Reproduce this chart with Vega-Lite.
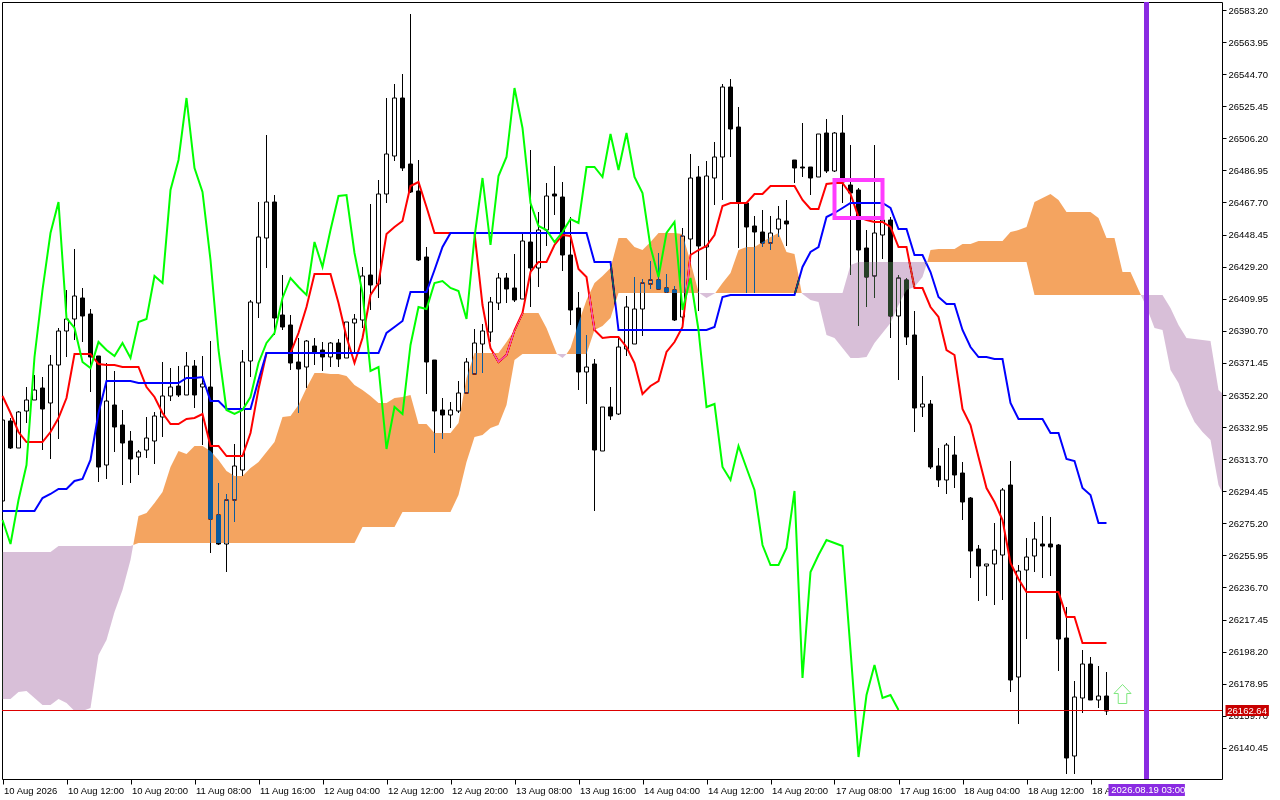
{
  "$schema": "https://vega.github.io/schema/vega-lite/v6.json",
  "width": 1220,
  "height": 777,
  "autosize": {"type": "none"},
  "padding": {"left": 2, "top": 2, "right": 58, "bottom": 21},
  "background": "#ffffff",
  "config": {
    "view": {"stroke": "#000000", "strokeWidth": 1, "fill": "#ffffff"},
    "axis": {"labelFont": "Liberation Sans", "labelFontSize": 9.5, "labelColor": "#000000", "tickColor": "#000000", "grid": false, "domain": false, "title": null, "labelOverlap": false, "labelBound": false, "labelFlush": false},
    "text": {"font": "Liberation Sans", "fontSize": 9.5}
  },
  "datasets": {
    "candles": [
      {"bar":0,"high":26340.2,"top":26337.2,"bottom":26288.6,"low":26286.2,"dir":"up"},
      {"bar":1,"high":26338.4,"top":26336.6,"bottom":26320.4,"low":26319.8,"dir":"down"},
      {"bar":2,"high":26342.6,"top":26342.0,"bottom":26320.4,"low":26320.4,"dir":"up"},
      {"bar":3,"high":26357.0,"top":26349.2,"bottom":26342.6,"low":26335.4,"dir":"up"},
      {"bar":4,"high":26364.2,"top":26355.2,"bottom":26349.2,"low":26349.2,"dir":"up"},
      {"bar":5,"high":26363.0,"top":26356.4,"bottom":26343.8,"low":26319.2,"dir":"down"},
      {"bar":6,"high":26376.2,"top":26370.2,"bottom":26347.4,"low":26313.8,"dir":"up"},
      {"bar":7,"high":26392.4,"top":26390.6,"bottom":26370.2,"low":26325.8,"dir":"up"},
      {"bar":8,"high":26415.2,"top":26397.8,"bottom":26390.6,"low":26375.0,"dir":"up"},
      {"bar":9,"high":26439.8,"top":26411.6,"bottom":26397.8,"low":26385.2,"dir":"up"},
      {"bar":10,"high":26416.4,"top":26410.4,"bottom":26399.6,"low":26384.0,"dir":"down"},
      {"bar":11,"high":26403.8,"top":26400.8,"bottom":26375.0,"low":26354.0,"dir":"down"},
      {"bar":12,"high":26375.6,"top":26375.6,"bottom":26309.0,"low":26300.0,"dir":"down"},
      {"bar":13,"high":26371.4,"top":26348.6,"bottom":26310.2,"low":26301.8,"dir":"up"},
      {"bar":14,"high":26366.6,"top":26346.2,"bottom":26333.0,"low":26318.0,"dir":"down"},
      {"bar":15,"high":26343.2,"top":26334.2,"bottom":26323.4,"low":26298.2,"dir":"down"},
      {"bar":16,"high":26330.6,"top":26324.6,"bottom":26313.8,"low":26299.4,"dir":"down"},
      {"bar":17,"high":26319.2,"top":26318.0,"bottom":26315.0,"low":26304.2,"dir":"up"},
      {"bar":18,"high":26339.0,"top":26326.4,"bottom":26319.2,"low":26314.4,"dir":"up"},
      {"bar":19,"high":26342.0,"top":26339.6,"bottom":26324.6,"low":26310.8,"dir":"up"},
      {"bar":20,"high":26372.0,"top":26351.6,"bottom":26339.0,"low":26327.0,"dir":"up"},
      {"bar":21,"high":26368.4,"top":26357.0,"bottom":26351.6,"low":26348.6,"dir":"up"},
      {"bar":22,"high":26369.6,"top":26357.6,"bottom":26352.2,"low":26351.0,"dir":"down"},
      {"bar":23,"high":26378.0,"top":26369.6,"bottom":26352.2,"low":26352.2,"dir":"up"},
      {"bar":24,"high":26373.2,"top":26369.6,"bottom":26352.2,"low":26344.4,"dir":"down"},
      {"bar":25,"high":26375.6,"top":26358.8,"bottom":26357.0,"low":26322.2,"dir":"up"},
      {"bar":26,"high":26384.6,"top":26357.0,"bottom":26277.8,"low":26257.4,"dir":"down"},
      {"bar":27,"high":26299.4,"top":26280.2,"bottom":26262.8,"low":26262.2,"dir":"down"},
      {"bar":28,"high":26292.8,"top":26289.2,"bottom":26262.8,"low":26246.0,"dir":"up"},
      {"bar":29,"high":26322.8,"top":26309.6,"bottom":26289.2,"low":26276.0,"dir":"up"},
      {"bar":30,"high":26379.2,"top":26372.0,"bottom":26307.2,"low":26303.6,"dir":"up"},
      {"bar":31,"high":26409.2,"top":26408.0,"bottom":26372.6,"low":26363.0,"dir":"up"},
      {"bar":32,"high":26468.0,"top":26447.0,"bottom":26407.4,"low":26398.4,"dir":"up"},
      {"bar":33,"high":26508.2,"top":26468.0,"bottom":26446.4,"low":26428.4,"dir":"up"},
      {"bar":34,"high":26472.2,"top":26468.0,"bottom":26398.4,"low":26388.2,"dir":"down"},
      {"bar":35,"high":26424.2,"top":26400.2,"bottom":26393.0,"low":26391.2,"dir":"down"},
      {"bar":36,"high":26400.2,"top":26394.2,"bottom":26371.4,"low":26367.2,"dir":"down"},
      {"bar":37,"high":26386.4,"top":26372.0,"bottom":26367.8,"low":26341.4,"dir":"down"},
      {"bar":38,"high":26385.2,"top":26384.6,"bottom":26369.0,"low":26356.4,"dir":"up"},
      {"bar":39,"high":26386.4,"top":26381.6,"bottom":26377.4,"low":26370.2,"dir":"down"},
      {"bar":40,"high":26384.0,"top":26379.2,"bottom":26375.0,"low":26366.6,"dir":"down"},
      {"bar":41,"high":26384.0,"top":26383.4,"bottom":26375.0,"low":26369.0,"dir":"up"},
      {"bar":42,"high":26385.8,"top":26383.4,"bottom":26373.8,"low":26369.0,"dir":"down"},
      {"bar":43,"high":26396.0,"top":26396.0,"bottom":26374.4,"low":26374.4,"dir":"up"},
      {"bar":44,"high":26400.8,"top":26397.8,"bottom":26395.4,"low":26378.0,"dir":"up"},
      {"bar":45,"high":26429.0,"top":26423.6,"bottom":26397.2,"low":26392.4,"dir":"up"},
      {"bar":46,"high":26466.8,"top":26424.2,"bottom":26418.2,"low":26403.2,"dir":"down"},
      {"bar":47,"high":26481.2,"top":26472.8,"bottom":26418.8,"low":26410.4,"dir":"up"},
      {"bar":48,"high":26530.4,"top":26496.8,"bottom":26472.8,"low":26467.4,"dir":"up"},
      {"bar":49,"high":26538.8,"top":26530.4,"bottom":26495.6,"low":26492.6,"dir":"up"},
      {"bar":50,"high":26544.8,"top":26530.4,"bottom":26488.4,"low":26486.6,"dir":"down"},
      {"bar":51,"high":26580.8,"top":26490.8,"bottom":26474.0,"low":26473.4,"dir":"down"},
      {"bar":52,"high":26493.2,"top":26474.6,"bottom":26433.2,"low":26432.6,"dir":"down"},
      {"bar":53,"high":26441.0,"top":26435.0,"bottom":26372.0,"low":26352.8,"dir":"down"},
      {"bar":54,"high":26373.2,"top":26373.2,"bottom":26342.6,"low":26317.4,"dir":"down"},
      {"bar":55,"high":26350.4,"top":26343.2,"bottom":26340.2,"low":26325.8,"dir":"down"},
      {"bar":56,"high":26348.0,"top":26343.2,"bottom":26340.2,"low":26332.4,"dir":"up"},
      {"bar":57,"high":26360.6,"top":26353.4,"bottom":26342.6,"low":26341.4,"dir":"up"},
      {"bar":58,"high":26374.4,"top":26372.0,"bottom":26353.4,"low":26353.4,"dir":"up"},
      {"bar":59,"high":26391.8,"top":26383.4,"bottom":26364.8,"low":26364.8,"dir":"up"},
      {"bar":60,"high":26394.8,"top":26390.6,"bottom":26382.8,"low":26365.4,"dir":"up"},
      {"bar":61,"high":26411.0,"top":26408.0,"bottom":26390.0,"low":26384.0,"dir":"up"},
      {"bar":62,"high":26425.4,"top":26422.4,"bottom":26407.4,"low":26403.2,"dir":"up"},
      {"bar":63,"high":26425.4,"top":26422.4,"bottom":26415.8,"low":26407.4,"dir":"down"},
      {"bar":64,"high":26436.8,"top":26416.4,"bottom":26409.2,"low":26408.0,"dir":"down"},
      {"bar":65,"high":26449.4,"top":26444.6,"bottom":26409.8,"low":26409.8,"dir":"up"},
      {"bar":66,"high":26499.2,"top":26444.0,"bottom":26428.4,"low":26405.0,"dir":"down"},
      {"bar":67,"high":26462.0,"top":26451.2,"bottom":26428.4,"low":26417.0,"dir":"up"},
      {"bar":68,"high":26479.4,"top":26471.6,"bottom":26451.2,"low":26441.6,"dir":"up"},
      {"bar":69,"high":26489.6,"top":26472.8,"bottom":26471.6,"low":26460.2,"dir":"down"},
      {"bar":70,"high":26480.0,"top":26471.0,"bottom":26436.2,"low":26426.6,"dir":"down"},
      {"bar":71,"high":26459.0,"top":26436.2,"bottom":26403.2,"low":26394.2,"dir":"down"},
      {"bar":72,"high":26414.0,"top":26404.4,"bottom":26366.0,"low":26355.2,"dir":"down"},
      {"bar":73,"high":26388.2,"top":26369.0,"bottom":26366.0,"low":26346.8,"dir":"up"},
      {"bar":74,"high":26373.8,"top":26370.8,"bottom":26319.2,"low":26282.6,"dir":"down"},
      {"bar":75,"high":26345.0,"top":26345.0,"bottom":26318.6,"low":26318.6,"dir":"up"},
      {"bar":76,"high":26357.0,"top":26345.0,"bottom":26339.6,"low":26337.2,"dir":"down"},
      {"bar":77,"high":26387.0,"top":26381.0,"bottom":26340.8,"low":26340.2,"dir":"up"},
      {"bar":78,"high":26411.6,"top":26405.0,"bottom":26379.8,"low":26375.6,"dir":"up"},
      {"bar":79,"high":26423.0,"top":26403.8,"bottom":26382.8,"low":26382.8,"dir":"up"},
      {"bar":80,"high":26421.8,"top":26419.4,"bottom":26403.8,"low":26387.6,"dir":"up"},
      {"bar":81,"high":26432.6,"top":26421.2,"bottom":26418.8,"low":26415.8,"dir":"up"},
      {"bar":82,"high":26437.4,"top":26421.2,"bottom":26415.8,"low":26415.8,"dir":"down"},
      {"bar":83,"high":26424.8,"top":26416.4,"bottom":26414.0,"low":26413.4,"dir":"down"},
      {"bar":84,"high":26417.6,"top":26415.2,"bottom":26397.2,"low":26396.6,"dir":"down"},
      {"bar":85,"high":26452.4,"top":26447.6,"bottom":26399.0,"low":26393.0,"dir":"up"},
      {"bar":86,"high":26496.8,"top":26482.4,"bottom":26445.8,"low":26432.0,"dir":"up"},
      {"bar":87,"high":26489.6,"top":26483.0,"bottom":26441.6,"low":26402.6,"dir":"down"},
      {"bar":88,"high":26492.6,"top":26483.6,"bottom":26441.0,"low":26421.2,"dir":"up"},
      {"bar":89,"high":26504.0,"top":26495.0,"bottom":26482.4,"low":26466.2,"dir":"up"},
      {"bar":90,"high":26538.8,"top":26537.0,"bottom":26495.0,"low":26469.2,"dir":"up"},
      {"bar":91,"high":26541.8,"top":26537.0,"bottom":26511.8,"low":26495.0,"dir":"down"},
      {"bar":92,"high":26525.0,"top":26513.0,"bottom":26468.0,"low":26440.4,"dir":"down"},
      {"bar":93,"high":26467.4,"top":26467.4,"bottom":26453.0,"low":26413.4,"dir":"down"},
      {"bar":94,"high":26459.6,"top":26453.6,"bottom":26450.0,"low":26413.4,"dir":"down"},
      {"bar":95,"high":26463.2,"top":26450.0,"bottom":26443.4,"low":26441.0,"dir":"down"},
      {"bar":96,"high":26459.6,"top":26449.4,"bottom":26443.4,"low":26439.2,"dir":"up"},
      {"bar":97,"high":26465.6,"top":26457.8,"bottom":26451.8,"low":26447.0,"dir":"up"},
      {"bar":98,"high":26469.2,"top":26456.6,"bottom":26454.8,"low":26441.6,"dir":"down"},
      {"bar":99,"high":26493.2,"top":26493.2,"bottom":26488.4,"low":26479.4,"dir":"down"},
      {"bar":100,"high":26515.4,"top":26489.0,"bottom":26488.4,"low":26483.0,"dir":"down"},
      {"bar":101,"high":26489.0,"top":26489.0,"bottom":26482.4,"low":26472.2,"dir":"down"},
      {"bar":102,"high":26508.8,"top":26508.8,"bottom":26483.0,"low":26483.0,"dir":"up"},
      {"bar":103,"high":26517.8,"top":26509.4,"bottom":26486.6,"low":26485.4,"dir":"down"},
      {"bar":104,"high":26510.0,"top":26509.4,"bottom":26486.6,"low":26486.0,"dir":"up"},
      {"bar":105,"high":26520.2,"top":26509.4,"bottom":26480.0,"low":26467.4,"dir":"down"},
      {"bar":106,"high":26502.2,"top":26478.2,"bottom":26473.4,"low":26424.2,"dir":"down"},
      {"bar":107,"high":26476.4,"top":26475.2,"bottom":26439.2,"low":26393.6,"dir":"down"},
      {"bar":108,"high":26451.2,"top":26440.4,"bottom":26423.0,"low":26405.0,"dir":"down"},
      {"bar":109,"high":26502.2,"top":26449.4,"bottom":26423.6,"low":26410.4,"dir":"up"},
      {"bar":110,"high":26457.2,"top":26457.2,"bottom":26448.2,"low":26433.8,"dir":"up"},
      {"bar":111,"high":26459.0,"top":26457.2,"bottom":26399.6,"low":26386.4,"dir":"down"},
      {"bar":112,"high":26424.2,"top":26422.4,"bottom":26399.6,"low":26361.2,"dir":"up"},
      {"bar":113,"high":26422.4,"top":26421.2,"bottom":26387.0,"low":26382.2,"dir":"down"},
      {"bar":114,"high":26402.6,"top":26388.2,"bottom":26344.4,"low":26330.0,"dir":"down"},
      {"bar":115,"high":26363.6,"top":26346.8,"bottom":26345.0,"low":26339.0,"dir":"up"},
      {"bar":116,"high":26349.2,"top":26346.8,"bottom":26309.0,"low":26307.8,"dir":"down"},
      {"bar":117,"high":26320.4,"top":26309.6,"bottom":26301.2,"low":26297.0,"dir":"down"},
      {"bar":118,"high":26323.4,"top":26322.2,"bottom":26301.2,"low":26292.8,"dir":"up"},
      {"bar":119,"high":26327.6,"top":26316.2,"bottom":26304.2,"low":26296.4,"dir":"down"},
      {"bar":120,"high":26312.0,"top":26305.4,"bottom":26288.0,"low":26277.2,"dir":"down"},
      {"bar":121,"high":26291.0,"top":26290.4,"bottom":26258.6,"low":26242.4,"dir":"down"},
      {"bar":122,"high":26262.2,"top":26259.8,"bottom":26249.6,"low":26228.6,"dir":"down"},
      {"bar":123,"high":26250.8,"top":26250.8,"bottom":26249.6,"low":26231.6,"dir":"up"},
      {"bar":124,"high":26275.4,"top":26259.2,"bottom":26250.8,"low":26226.2,"dir":"up"},
      {"bar":125,"high":26296.4,"top":26295.2,"bottom":26256.2,"low":26229.2,"dir":"up"},
      {"bar":126,"high":26312.6,"top":26298.2,"bottom":26181.2,"low":26174.0,"dir":"down"},
      {"bar":127,"high":26250.2,"top":26246.6,"bottom":26183.0,"low":26154.8,"dir":"up"},
      {"bar":128,"high":26266.4,"top":26255.0,"bottom":26247.2,"low":26205.8,"dir":"up"},
      {"bar":129,"high":26276.0,"top":26265.8,"bottom":26255.6,"low":26246.0,"dir":"up"},
      {"bar":130,"high":26279.6,"top":26262.8,"bottom":26261.6,"low":26242.4,"dir":"down"},
      {"bar":131,"high":26279.0,"top":26262.8,"bottom":26261.0,"low":26243.6,"dir":"down"},
      {"bar":132,"high":26262.8,"top":26262.2,"bottom":26205.8,"low":26186.6,"dir":"down"},
      {"bar":133,"high":26225.0,"top":26206.4,"bottom":26134.4,"low":26124.8,"dir":"down"},
      {"bar":134,"high":26180.6,"top":26171.0,"bottom":26135.6,"low":26124.8,"dir":"up"},
      {"bar":135,"high":26199.2,"top":26190.8,"bottom":26170.4,"low":26161.4,"dir":"up"},
      {"bar":136,"high":26195.0,"top":26190.8,"bottom":26169.2,"low":26169.2,"dir":"down"},
      {"bar":137,"high":26189.6,"top":26171.6,"bottom":26169.2,"low":26164.4,"dir":"up"},
      {"bar":138,"high":26186.0,"top":26171.6,"bottom":26162.6,"low":26160.2,"dir":"down"}
    ],
    "tenkan": [
      {"bar":0,"v":26351.6},{"bar":1,"v":26341.4},{"bar":2,"v":26330.0},{"bar":3,"v":26324.0},{"bar":4,"v":26324.0},{"bar":5,"v":26324.0},{"bar":6,"v":26330.0},{"bar":7,"v":26338.4},{"bar":8,"v":26350.4},{"bar":9,"v":26376.8},
      {"bar":10,"v":26376.8},{"bar":11,"v":26376.8},{"bar":12,"v":26370.8},{"bar":13,"v":26370.2},{"bar":14,"v":26370.2},{"bar":15,"v":26369.0},{"bar":16,"v":26369.0},{"bar":17,"v":26369.0},{"bar":18,"v":26357.0},{"bar":19,"v":26351.0},
      {"bar":20,"v":26341.4},{"bar":21,"v":26334.8},{"bar":22,"v":26334.8},{"bar":23,"v":26337.8},{"bar":24,"v":26338.4},{"bar":25,"v":26340.8},{"bar":26,"v":26321.6},{"bar":27,"v":26321.6},{"bar":28,"v":26315.6},{"bar":29,"v":26315.6},
      {"bar":30,"v":26315.6},{"bar":31,"v":26329.4},{"bar":32,"v":26355.8},{"bar":33,"v":26377.4},{"bar":34,"v":26377.4},{"bar":35,"v":26377.4},{"bar":36,"v":26377.4},{"bar":37,"v":26389.4},{"bar":38,"v":26405.0},{"bar":39,"v":26424.8},
      {"bar":40,"v":26424.8},{"bar":41,"v":26424.8},{"bar":42,"v":26407.4},{"bar":43,"v":26387.0},{"bar":44,"v":26371.4},{"bar":45,"v":26386.4},{"bar":46,"v":26412.2},{"bar":47,"v":26419.4},{"bar":48,"v":26448.8},{"bar":49,"v":26453.0},
      {"bar":50,"v":26456.6},{"bar":51,"v":26477.6},{"bar":52,"v":26480.0},{"bar":53,"v":26465.0},{"bar":54,"v":26449.4},{"bar":55,"v":26449.4},{"bar":56,"v":26449.4},{"bar":57,"v":26449.4},{"bar":58,"v":26449.4},{"bar":59,"v":26449.4},
      {"bar":60,"v":26406.2},{"bar":61,"v":26380.4},{"bar":62,"v":26372.0},{"bar":63,"v":26376.2},{"bar":64,"v":26391.2},{"bar":65,"v":26401.4},{"bar":66,"v":26426.0},{"bar":67,"v":26432.0},{"bar":68,"v":26432.0},{"bar":69,"v":26442.2},
      {"bar":70,"v":26448.2},{"bar":71,"v":26447.6},{"bar":72,"v":26427.8},{"bar":73,"v":26423.0},{"bar":74,"v":26391.2},{"bar":75,"v":26386.4},{"bar":76,"v":26387.0},{"bar":77,"v":26387.0},{"bar":78,"v":26381.0},{"bar":79,"v":26371.4},
      {"bar":80,"v":26352.8},{"bar":81,"v":26357.6},{"bar":82,"v":26360.6},{"bar":83,"v":26378.0},{"bar":84,"v":26384.0},{"bar":85,"v":26393.0},{"bar":86,"v":26436.2},{"bar":87,"v":26439.2},{"bar":88,"v":26441.6},{"bar":89,"v":26448.2},
      {"bar":90,"v":26465.6},{"bar":91,"v":26467.4},{"bar":92,"v":26467.4},{"bar":93,"v":26467.4},{"bar":94,"v":26472.8},{"bar":95,"v":26472.8},{"bar":96,"v":26477.6},{"bar":97,"v":26477.6},{"bar":98,"v":26477.6},{"bar":99,"v":26477.6},
      {"bar":100,"v":26469.2},{"bar":101,"v":26463.8},{"bar":102,"v":26463.8},{"bar":103,"v":26478.8},{"bar":104,"v":26479.4},{"bar":105,"v":26479.4},{"bar":106,"v":26472.8},{"bar":107,"v":26459.0},{"bar":108,"v":26457.2},{"bar":109,"v":26456.0},
      {"bar":110,"v":26456.0},{"bar":111,"v":26453.0},{"bar":112,"v":26441.0},{"bar":113,"v":26441.0},{"bar":114,"v":26416.4},{"bar":115,"v":26416.4},{"bar":116,"v":26405.0},{"bar":117,"v":26399.0},{"bar":118,"v":26379.2},{"bar":119,"v":26376.2},
      {"bar":120,"v":26343.8},{"bar":121,"v":26334.2},{"bar":122,"v":26315.0},{"bar":123,"v":26296.4},{"bar":124,"v":26288.0},{"bar":125,"v":26277.2},{"bar":126,"v":26251.4},{"bar":127,"v":26241.8},{"bar":128,"v":26234.0},{"bar":129,"v":26234.0},
      {"bar":130,"v":26234.0},{"bar":131,"v":26234.0},{"bar":132,"v":26234.0},{"bar":133,"v":26219.0},{"bar":134,"v":26219.0},{"bar":135,"v":26203.4},{"bar":136,"v":26203.4},{"bar":137,"v":26203.4},{"bar":138,"v":26203.4}
    ],
    "kijun": [
      {"bar":0,"v":26282.6},{"bar":1,"v":26282.6},{"bar":2,"v":26282.6},{"bar":3,"v":26282.6},{"bar":4,"v":26282.6},{"bar":5,"v":26290.4},{"bar":6,"v":26292.8},{"bar":7,"v":26295.8},{"bar":8,"v":26295.8},{"bar":9,"v":26300.6},
      {"bar":10,"v":26301.8},{"bar":11,"v":26313.2},{"bar":12,"v":26341.4},{"bar":13,"v":26360.6},{"bar":14,"v":26360.6},{"bar":15,"v":26360.6},{"bar":16,"v":26360.6},{"bar":17,"v":26359.4},{"bar":18,"v":26359.4},{"bar":19,"v":26359.4},
      {"bar":20,"v":26359.4},{"bar":21,"v":26359.4},{"bar":22,"v":26359.4},{"bar":23,"v":26362.4},{"bar":24,"v":26362.4},{"bar":25,"v":26363.0},{"bar":26,"v":26348.6},{"bar":27,"v":26348.6},{"bar":28,"v":26343.8},{"bar":29,"v":26343.8},
      {"bar":30,"v":26343.8},{"bar":31,"v":26343.8},{"bar":32,"v":26361.2},{"bar":33,"v":26377.4},{"bar":34,"v":26377.4},{"bar":35,"v":26377.4},{"bar":36,"v":26377.4},{"bar":37,"v":26377.4},{"bar":38,"v":26377.4},{"bar":39,"v":26377.4},
      {"bar":40,"v":26377.4},{"bar":41,"v":26377.4},{"bar":42,"v":26377.4},{"bar":43,"v":26377.4},{"bar":44,"v":26377.4},{"bar":45,"v":26377.4},{"bar":46,"v":26377.4},{"bar":47,"v":26377.4},{"bar":48,"v":26389.4},{"bar":49,"v":26393.0},
      {"bar":50,"v":26396.6},{"bar":51,"v":26414.0},{"bar":52,"v":26414.0},{"bar":53,"v":26414.0},{"bar":54,"v":26427.2},{"bar":55,"v":26441.0},{"bar":56,"v":26449.4},{"bar":57,"v":26449.4},{"bar":58,"v":26449.4},{"bar":59,"v":26449.4},
      {"bar":60,"v":26449.4},{"bar":61,"v":26449.4},{"bar":62,"v":26449.4},{"bar":63,"v":26449.4},{"bar":64,"v":26449.4},{"bar":65,"v":26449.4},{"bar":66,"v":26449.4},{"bar":67,"v":26449.4},{"bar":68,"v":26449.4},{"bar":69,"v":26449.4},
      {"bar":70,"v":26449.4},{"bar":71,"v":26449.4},{"bar":72,"v":26449.4},{"bar":73,"v":26449.4},{"bar":74,"v":26432.0},{"bar":75,"v":26432.0},{"bar":76,"v":26432.0},{"bar":77,"v":26391.2},{"bar":78,"v":26391.2},{"bar":79,"v":26391.2},
      {"bar":80,"v":26391.2},{"bar":81,"v":26391.2},{"bar":82,"v":26391.2},{"bar":83,"v":26391.2},{"bar":84,"v":26391.2},{"bar":85,"v":26391.2},{"bar":86,"v":26391.2},{"bar":87,"v":26391.2},{"bar":88,"v":26391.2},{"bar":89,"v":26393.0},
      {"bar":90,"v":26411.0},{"bar":91,"v":26412.2},{"bar":92,"v":26412.2},{"bar":93,"v":26412.2},{"bar":94,"v":26412.2},{"bar":95,"v":26412.2},{"bar":96,"v":26412.2},{"bar":97,"v":26412.2},{"bar":98,"v":26412.2},{"bar":99,"v":26412.2},
      {"bar":100,"v":26429.0},{"bar":101,"v":26438.0},{"bar":102,"v":26441.0},{"bar":103,"v":26459.0},{"bar":104,"v":26461.4},{"bar":105,"v":26464.4},{"bar":106,"v":26467.4},{"bar":107,"v":26467.4},{"bar":108,"v":26467.4},{"bar":109,"v":26467.4},
      {"bar":110,"v":26467.4},{"bar":111,"v":26464.4},{"bar":112,"v":26451.8},{"bar":113,"v":26451.8},{"bar":114,"v":26436.2},{"bar":115,"v":26436.2},{"bar":116,"v":26426.0},{"bar":117,"v":26411.0},{"bar":118,"v":26406.8},{"bar":119,"v":26406.8},
      {"bar":120,"v":26391.2},{"bar":121,"v":26381.0},{"bar":122,"v":26375.0},{"bar":123,"v":26375.0},{"bar":124,"v":26373.8},{"bar":125,"v":26373.8},{"bar":126,"v":26347.4},{"bar":127,"v":26337.8},{"bar":128,"v":26337.8},{"bar":129,"v":26337.8},
      {"bar":130,"v":26337.8},{"bar":131,"v":26329.4},{"bar":132,"v":26329.4},{"bar":133,"v":26313.8},{"bar":134,"v":26312.6},{"bar":135,"v":26296.4},{"bar":136,"v":26292.2},{"bar":137,"v":26275.4},{"bar":138,"v":26275.4}
    ],
    "chikou": [
      {"bar":0,"v":26277.2},{"bar":1,"v":26262.8},{"bar":2,"v":26289.2},{"bar":3,"v":26310.2},{"bar":4,"v":26375.0},{"bar":5,"v":26415.2},{"bar":6,"v":26449.4},{"bar":7,"v":26468.0},{"bar":8,"v":26398.4},{"bar":9,"v":26392.4},
      {"bar":10,"v":26372.0},{"bar":11,"v":26368.4},{"bar":12,"v":26384.0},{"bar":13,"v":26379.2},{"bar":14,"v":26375.6},{"bar":15,"v":26383.4},{"bar":16,"v":26374.4},{"bar":17,"v":26396.0},{"bar":18,"v":26397.8},{"bar":19,"v":26423.6},
      {"bar":20,"v":26419.4},{"bar":21,"v":26475.2},{"bar":22,"v":26493.2},{"bar":23,"v":26530.4},{"bar":24,"v":26488.4},{"bar":25,"v":26474.0},{"bar":26,"v":26433.2},{"bar":27,"v":26379.2},{"bar":28,"v":26343.2},{"bar":29,"v":26340.8},
      {"bar":30,"v":26343.2},{"bar":31,"v":26351.0},{"bar":32,"v":26371.4},{"bar":33,"v":26383.4},{"bar":34,"v":26389.4},{"bar":35,"v":26410.4},{"bar":36,"v":26422.4},{"bar":37,"v":26417.0},{"bar":38,"v":26412.2},{"bar":39,"v":26444.0},
      {"bar":40,"v":26429.0},{"bar":41,"v":26451.2},{"bar":42,"v":26471.6},{"bar":43,"v":26472.2},{"bar":44,"v":26437.4},{"bar":45,"v":26413.4},{"bar":46,"v":26366.6},{"bar":47,"v":26369.0},{"bar":48,"v":26319.8},{"bar":49,"v":26345.0},
      {"bar":50,"v":26340.8},{"bar":51,"v":26382.2},{"bar":52,"v":26405.0},{"bar":53,"v":26403.8},{"bar":54,"v":26419.4},{"bar":55,"v":26420.6},{"bar":56,"v":26416.4},{"bar":57,"v":26414.6},{"bar":58,"v":26397.8},{"bar":59,"v":26447.0},
      {"bar":60,"v":26482.4},{"bar":61,"v":26442.2},{"bar":62,"v":26483.6},{"bar":63,"v":26495.0},{"bar":64,"v":26536.4},{"bar":65,"v":26512.4},{"bar":66,"v":26467.4},{"bar":67,"v":26453.6},{"bar":68,"v":26451.2},{"bar":69,"v":26444.0},
      {"bar":70,"v":26450.0},{"bar":71,"v":26457.8},{"bar":72,"v":26455.4},{"bar":73,"v":26489.0},{"bar":74,"v":26489.0},{"bar":75,"v":26483.0},{"bar":76,"v":26508.8},{"bar":77,"v":26487.2},{"bar":78,"v":26509.4},{"bar":79,"v":26483.0},
      {"bar":80,"v":26473.4},{"bar":81,"v":26441.0},{"bar":82,"v":26423.0},{"bar":83,"v":26449.4},{"bar":84,"v":26456.0},{"bar":85,"v":26403.2},{"bar":86,"v":26422.4},{"bar":87,"v":26391.2},{"bar":88,"v":26345.0},{"bar":89,"v":26346.8},
      {"bar":90,"v":26309.0},{"bar":91,"v":26301.2},{"bar":92,"v":26321.6},{"bar":93,"v":26308.4},{"bar":94,"v":26295.2},{"bar":95,"v":26262.2},{"bar":96,"v":26250.2},{"bar":97,"v":26250.2},{"bar":98,"v":26260.4},{"bar":99,"v":26294.6},
      {"bar":100,"v":26182.4},{"bar":101,"v":26246.0},{"bar":102,"v":26256.2},{"bar":103,"v":26265.2},{"bar":104,"v":26263.4},{"bar":105,"v":26261.6},{"bar":106,"v":26199.2},{"bar":107,"v":26135.0},{"bar":108,"v":26172.2},{"bar":109,"v":26190.2},
      {"bar":110,"v":26170.4},{"bar":111,"v":26172.2},{"bar":112,"v":26163.2}
    ],
    "cloud": [
      {"seg":1,"kind":"down","bar":0,"upper":26258.0,"lower":26169.8},{"seg":1,"kind":"down","bar":1,"upper":26258.0,"lower":26169.8},{"seg":1,"kind":"down","bar":2,"upper":26258.0,"lower":26174.0},{"seg":1,"kind":"down","bar":3,"upper":26258.0,"lower":26174.6},{"seg":1,"kind":"down","bar":4,"upper":26258.0,"lower":26170.4},{"seg":1,"kind":"down","bar":5,"upper":26258.0,"lower":26166.2},{"seg":1,"kind":"down","bar":6,"upper":26258.0,"lower":26166.2},{"seg":1,"kind":"down","bar":7,"upper":26261.6,"lower":26169.8},{"seg":1,"kind":"down","bar":8,"upper":26261.6,"lower":26167.4},{"seg":1,"kind":"down","bar":9,"upper":26261.6,"lower":26162.6},{"seg":1,"kind":"down","bar":10,"upper":26261.6,"lower":26162.6},{"seg":1,"kind":"down","bar":11,"upper":26261.6,"lower":26164.4},{"seg":1,"kind":"down","bar":12,"upper":26261.6,"lower":26196.2},{"seg":1,"kind":"down","bar":13,"upper":26261.6,"lower":26205.2},{"seg":1,"kind":"down","bar":14,"upper":26261.6,"lower":26222.0},{"seg":1,"kind":"down","bar":15,"upper":26261.6,"lower":26235.2},{"seg":1,"kind":"down","bar":16,"upper":26261.6,"lower":26253.2},{"seg":1,"kind":"down","bar":16.34,"upper":26262.2,"lower":26262.2},
      {"seg":2,"kind":"up","bar":16.34,"upper":26262.2,"lower":26262.2},{"seg":2,"kind":"up","bar":17,"upper":26279.6,"lower":26263.4},{"seg":2,"kind":"up","bar":18,"upper":26281.4,"lower":26263.4},{"seg":2,"kind":"up","bar":19,"upper":26287.4,"lower":26263.4},{"seg":2,"kind":"up","bar":20,"upper":26294.0,"lower":26263.4},{"seg":2,"kind":"up","bar":21,"upper":26309.0,"lower":26263.4},{"seg":2,"kind":"up","bar":22,"upper":26318.6,"lower":26263.4},{"seg":2,"kind":"up","bar":23,"upper":26316.8,"lower":26263.4},{"seg":2,"kind":"up","bar":24,"upper":26321.6,"lower":26263.4},{"seg":2,"kind":"up","bar":25,"upper":26321.6,"lower":26263.4},{"seg":2,"kind":"up","bar":26,"upper":26318.6,"lower":26263.4},{"seg":2,"kind":"up","bar":27,"upper":26313.2,"lower":26263.4},{"seg":2,"kind":"up","bar":28,"upper":26306.6,"lower":26263.4},{"seg":2,"kind":"up","bar":29,"upper":26303.6,"lower":26263.4},{"seg":2,"kind":"up","bar":30,"upper":26303.6,"lower":26263.4},{"seg":2,"kind":"up","bar":31,"upper":26308.4,"lower":26263.4},{"seg":2,"kind":"up","bar":32,"upper":26312.0,"lower":26263.4},{"seg":2,"kind":"up","bar":33,"upper":26318.0,"lower":26263.4},{"seg":2,"kind":"up","bar":34,"upper":26324.0,"lower":26263.4},{"seg":2,"kind":"up","bar":35,"upper":26339.0,"lower":26263.4},{"seg":2,"kind":"up","bar":36,"upper":26339.6,"lower":26263.4},{"seg":2,"kind":"up","bar":37,"upper":26346.2,"lower":26263.4},{"seg":2,"kind":"up","bar":38,"upper":26356.4,"lower":26263.4},{"seg":2,"kind":"up","bar":39,"upper":26365.4,"lower":26263.4},{"seg":2,"kind":"up","bar":40,"upper":26365.4,"lower":26263.4},{"seg":2,"kind":"up","bar":41,"upper":26364.8,"lower":26263.4},{"seg":2,"kind":"up","bar":42,"upper":26364.8,"lower":26263.4},{"seg":2,"kind":"up","bar":43,"upper":26363.6,"lower":26263.4},{"seg":2,"kind":"up","bar":44,"upper":26358.2,"lower":26263.4},{"seg":2,"kind":"up","bar":45,"upper":26355.2,"lower":26273.0},{"seg":2,"kind":"up","bar":46,"upper":26351.6,"lower":26273.0},{"seg":2,"kind":"up","bar":47,"upper":26347.4,"lower":26273.0},{"seg":2,"kind":"up","bar":48,"upper":26347.4,"lower":26273.0},{"seg":2,"kind":"up","bar":49,"upper":26350.4,"lower":26273.0},{"seg":2,"kind":"up","bar":50,"upper":26351.0,"lower":26282.0},{"seg":2,"kind":"up","bar":51,"upper":26352.2,"lower":26282.0},{"seg":2,"kind":"up","bar":52,"upper":26334.8,"lower":26282.0},{"seg":2,"kind":"up","bar":53,"upper":26334.8,"lower":26282.0},{"seg":2,"kind":"up","bar":54,"upper":26329.4,"lower":26282.0},{"seg":2,"kind":"up","bar":55,"upper":26329.4,"lower":26282.0},{"seg":2,"kind":"up","bar":56,"upper":26329.4,"lower":26282.0},{"seg":2,"kind":"up","bar":57,"upper":26335.4,"lower":26292.2},{"seg":2,"kind":"up","bar":58,"upper":26362.4,"lower":26312.0},{"seg":2,"kind":"up","bar":59,"upper":26377.4,"lower":26327.0},{"seg":2,"kind":"up","bar":60,"upper":26377.4,"lower":26328.2},{"seg":2,"kind":"up","bar":61,"upper":26377.4,"lower":26332.4},{"seg":2,"kind":"up","bar":62,"upper":26377.4,"lower":26334.2},{"seg":2,"kind":"up","bar":63,"upper":26384.0,"lower":26346.2},{"seg":2,"kind":"up","bar":64,"upper":26391.2,"lower":26373.2},{"seg":2,"kind":"up","bar":65,"upper":26401.4,"lower":26376.8},{"seg":2,"kind":"up","bar":66,"upper":26401.4,"lower":26376.8},{"seg":2,"kind":"up","bar":67,"upper":26401.4,"lower":26376.8},{"seg":2,"kind":"up","bar":68,"upper":26392.4,"lower":26376.8},{"seg":2,"kind":"up","bar":69,"upper":26380.4,"lower":26376.8},{"seg":2,"kind":"up","bar":69.3,"upper":26376.8,"lower":26376.8},
      {"seg":3,"kind":"down","bar":69.3,"upper":26376.8,"lower":26376.8},{"seg":3,"kind":"down","bar":70,"upper":26376.8,"lower":26374.4},{"seg":3,"kind":"down","bar":70.5,"upper":26376.8,"lower":26376.8},
      {"seg":4,"kind":"up","bar":70.5,"upper":26376.8,"lower":26376.8},{"seg":4,"kind":"up","bar":71,"upper":26380.4,"lower":26376.8},{"seg":4,"kind":"up","bar":72,"upper":26395.4,"lower":26376.8},{"seg":4,"kind":"up","bar":73,"upper":26409.2,"lower":26376.8},{"seg":4,"kind":"up","bar":74,"upper":26419.4,"lower":26391.2},{"seg":4,"kind":"up","bar":75,"upper":26423.6,"lower":26393.6},{"seg":4,"kind":"up","bar":76,"upper":26428.4,"lower":26398.4},{"seg":4,"kind":"up","bar":77,"upper":26446.4,"lower":26413.4},{"seg":4,"kind":"up","bar":78,"upper":26446.4,"lower":26413.4},{"seg":4,"kind":"up","bar":79,"upper":26441.0,"lower":26413.4},{"seg":4,"kind":"up","bar":80,"upper":26439.2,"lower":26413.4},{"seg":4,"kind":"up","bar":81,"upper":26444.0,"lower":26413.4},{"seg":4,"kind":"up","bar":82,"upper":26449.4,"lower":26413.4},{"seg":4,"kind":"up","bar":83,"upper":26449.4,"lower":26413.4},{"seg":4,"kind":"up","bar":84,"upper":26449.4,"lower":26413.4},{"seg":4,"kind":"up","bar":85,"upper":26448.8,"lower":26413.4},{"seg":4,"kind":"up","bar":86,"upper":26432.0,"lower":26413.4},{"seg":4,"kind":"up","bar":87,"upper":26414.0,"lower":26413.4},{"seg":4,"kind":"up","bar":87.1,"upper":26413.4,"lower":26413.4},
      {"seg":5,"kind":"down","bar":87.1,"upper":26413.4,"lower":26413.4},{"seg":5,"kind":"down","bar":88,"upper":26413.4,"lower":26410.4},{"seg":5,"kind":"down","bar":89.1,"upper":26413.4,"lower":26413.4},
      {"seg":6,"kind":"up","bar":89.1,"upper":26413.4,"lower":26413.4},{"seg":6,"kind":"up","bar":90,"upper":26419.4,"lower":26413.4},{"seg":6,"kind":"up","bar":91,"upper":26425.4,"lower":26413.4},{"seg":6,"kind":"up","bar":92,"upper":26439.2,"lower":26413.4},{"seg":6,"kind":"up","bar":93,"upper":26441.0,"lower":26413.4},{"seg":6,"kind":"up","bar":94,"upper":26441.0,"lower":26413.4},{"seg":6,"kind":"up","bar":95,"upper":26444.0,"lower":26413.4},{"seg":6,"kind":"up","bar":96,"upper":26447.0,"lower":26413.4},{"seg":6,"kind":"up","bar":97,"upper":26449.4,"lower":26413.4},{"seg":6,"kind":"up","bar":98,"upper":26438.0,"lower":26413.4},{"seg":6,"kind":"up","bar":99,"upper":26436.8,"lower":26413.4},{"seg":6,"kind":"up","bar":99.9,"upper":26413.4,"lower":26413.4},
      {"seg":7,"kind":"down","bar":99.9,"upper":26413.4,"lower":26413.4},{"seg":7,"kind":"down","bar":100,"upper":26413.4,"lower":26412.8},{"seg":7,"kind":"down","bar":101,"upper":26413.4,"lower":26409.2},{"seg":7,"kind":"down","bar":102,"upper":26413.4,"lower":26408.0},{"seg":7,"kind":"down","bar":103,"upper":26413.4,"lower":26388.2},{"seg":7,"kind":"down","bar":104,"upper":26413.4,"lower":26386.4},{"seg":7,"kind":"down","bar":105,"upper":26413.4,"lower":26380.4},{"seg":7,"kind":"down","bar":106,"upper":26430.2,"lower":26374.4},{"seg":7,"kind":"down","bar":107,"upper":26432.0,"lower":26374.4},{"seg":7,"kind":"down","bar":108,"upper":26432.0,"lower":26375.0},{"seg":7,"kind":"down","bar":109,"upper":26432.0,"lower":26383.4},{"seg":7,"kind":"down","bar":110,"upper":26432.0,"lower":26389.4},{"seg":7,"kind":"down","bar":111,"upper":26432.0,"lower":26395.4},{"seg":7,"kind":"down","bar":112,"upper":26432.0,"lower":26406.2},{"seg":7,"kind":"down","bar":113,"upper":26432.0,"lower":26415.2},{"seg":7,"kind":"down","bar":114,"upper":26432.0,"lower":26417.0},{"seg":7,"kind":"down","bar":115,"upper":26432.0,"lower":26423.0},{"seg":7,"kind":"down","bar":115.6,"upper":26432.0,"lower":26432.0},
      {"seg":8,"kind":"up","bar":115.6,"upper":26432.0,"lower":26432.0},{"seg":8,"kind":"up","bar":116,"upper":26439.2,"lower":26432.0},{"seg":8,"kind":"up","bar":117,"upper":26439.8,"lower":26432.0},{"seg":8,"kind":"up","bar":118,"upper":26439.8,"lower":26432.0},{"seg":8,"kind":"up","bar":119,"upper":26439.8,"lower":26432.0},{"seg":8,"kind":"up","bar":120,"upper":26442.8,"lower":26432.0},{"seg":8,"kind":"up","bar":121,"upper":26442.8,"lower":26432.0},{"seg":8,"kind":"up","bar":122,"upper":26444.6,"lower":26432.0},{"seg":8,"kind":"up","bar":123,"upper":26444.6,"lower":26432.0},{"seg":8,"kind":"up","bar":124,"upper":26444.6,"lower":26432.0},{"seg":8,"kind":"up","bar":125,"upper":26444.6,"lower":26432.0},{"seg":8,"kind":"up","bar":126,"upper":26450.0,"lower":26432.0},{"seg":8,"kind":"up","bar":127,"upper":26451.2,"lower":26432.0},{"seg":8,"kind":"up","bar":128,"upper":26453.0,"lower":26432.0},{"seg":8,"kind":"up","bar":129,"upper":26468.0,"lower":26412.2},{"seg":8,"kind":"up","bar":130,"upper":26470.4,"lower":26412.2},{"seg":8,"kind":"up","bar":131,"upper":26472.8,"lower":26412.2},{"seg":8,"kind":"up","bar":132,"upper":26469.2,"lower":26412.2},{"seg":8,"kind":"up","bar":133,"upper":26462.0,"lower":26412.2},{"seg":8,"kind":"up","bar":134,"upper":26462.0,"lower":26412.2},{"seg":8,"kind":"up","bar":135,"upper":26462.0,"lower":26412.2},{"seg":8,"kind":"up","bar":136,"upper":26462.0,"lower":26412.2},{"seg":8,"kind":"up","bar":137,"upper":26458.4,"lower":26412.2},{"seg":8,"kind":"up","bar":138,"upper":26446.4,"lower":26412.2},{"seg":8,"kind":"up","bar":139,"upper":26446.4,"lower":26412.2},{"seg":8,"kind":"up","bar":140,"upper":26426.0,"lower":26412.2},{"seg":8,"kind":"up","bar":141,"upper":26426.0,"lower":26412.2},{"seg":8,"kind":"up","bar":142.3,"upper":26412.2,"lower":26412.2},
      {"seg":9,"kind":"down","bar":142.3,"upper":26412.2,"lower":26412.2},{"seg":9,"kind":"down","bar":143,"upper":26412.2,"lower":26405.0},{"seg":9,"kind":"down","bar":144,"upper":26412.2,"lower":26392.4},{"seg":9,"kind":"down","bar":145,"upper":26412.2,"lower":26391.2},{"seg":9,"kind":"down","bar":146,"upper":26404.4,"lower":26367.2},{"seg":9,"kind":"down","bar":147,"upper":26394.2,"lower":26359.4},{"seg":9,"kind":"down","bar":148,"upper":26386.4,"lower":26346.2},{"seg":9,"kind":"down","bar":149,"upper":26385.8,"lower":26336.0},{"seg":9,"kind":"down","bar":150,"upper":26385.2,"lower":26330.0},{"seg":9,"kind":"down","bar":151,"upper":26384.6,"lower":26325.2},{"seg":9,"kind":"down","bar":152,"upper":26355.2,"lower":26298.2},{"seg":9,"kind":"down","bar":152.44,"upper":26353.4,"lower":26294.0}
    ]
  },
  "encoding": {
    "x": {
      "field": "bar",
      "type": "quantitative",
      "scale": {"domain": [-0.0625, 152.4375], "nice": false, "zero": false, "padding": 0},
      "axis": {
        "values": [0, 8, 16, 24, 32, 40, 48, 56, 64, 72, 80, 88, 96, 104, 112, 120, 128, 136],
        "labelExpr": "['10 Aug 2026','10 Aug 12:00','10 Aug 20:00','11 Aug 08:00','11 Aug 16:00','12 Aug 04:00','12 Aug 12:00','12 Aug 20:00','13 Aug 08:00','13 Aug 16:00','14 Aug 04:00','14 Aug 12:00','14 Aug 20:00','17 Aug 08:00','17 Aug 16:00','18 Aug 04:00','18 Aug 12:00','18 Aug 20:00'][datum.value/8]",
        "labelAlign": "left",
        "labelOffset": 1,
        "labelPadding": 1,
        "tickSize": 5
      }
    }
  },
  "layer": [
    {
      "data": {"name": "candles"},
      "mark": {"type": "rule", "color": "#000000", "strokeWidth": 1, "clip": true},
      "encoding": {
        "y": {
          "field": "high",
          "type": "quantitative",
          "scale": {"domain": [26121.8, 26588.0], "nice": false, "zero": false, "padding": 0},
          "axis": {
            "orient": "right",
            "values": [26583.20, 26563.95, 26544.70, 26525.45, 26506.20, 26486.95, 26467.70, 26448.45, 26429.20, 26409.95, 26390.70, 26371.45, 26352.20, 26332.95, 26313.70, 26294.45, 26275.20, 26255.95, 26236.70, 26217.45, 26198.20, 26178.95, 26159.70, 26140.45],
            "tickCount": 30,
            "format": ".2f",
            "tickSize": 4,
            "labelPadding": 2
          }
        },
        "y2": {"field": "top"}
      }
    },
    {
      "data": {"name": "candles"},
      "mark": {"type": "rule", "color": "#000000", "strokeWidth": 1, "clip": true},
      "encoding": {
        "y": {"field": "bottom", "type": "quantitative"},
        "y2": {"field": "low"}
      }
    },
    {
      "data": {"name": "candles"},
      "mark": {"type": "bar", "orient": "vertical", "size": 4, "stroke": "#000000", "strokeWidth": 1, "clip": true},
      "encoding": {
        "y": {"field": "top", "type": "quantitative"},
        "y2": {"field": "bottom"},
        "fill": {"condition": {"test": "datum.dir === 'down'", "value": "#000000"}, "value": "transparent"}
      }
    },
    {
      "data": {"name": "tenkan"},
      "mark": {"type": "line", "color": "#ff0000", "strokeWidth": 2},
      "encoding": {"y": {"field": "v", "type": "quantitative"}}
    },
    {
      "data": {"name": "kijun"},
      "mark": {"type": "line", "color": "#0000ff", "strokeWidth": 2},
      "encoding": {"y": {"field": "v", "type": "quantitative"}}
    },
    {
      "data": {"name": "cloud"},
      "mark": {"type": "area", "blend": "difference"},
      "encoding": {
        "y": {"field": "upper", "type": "quantitative"},
        "y2": {"field": "lower"},
        "detail": {"field": "seg", "type": "nominal"},
        "fill": {"field": "kind", "type": "nominal", "scale": {"domain": ["up", "down"], "range": ["#0b5b9f", "#274027"]}, "legend": null}
      }
    },
    {
      "data": {"name": "chikou"},
      "mark": {"type": "line", "color": "#00ff00", "strokeWidth": 2},
      "encoding": {"y": {"field": "v", "type": "quantitative"}}
    },
    {
      "data": {"values": [{"bar": -0.0625, "bar2": 152.4375, "v": 26162.9}]},
      "mark": {"type": "rule", "color": "#dc0000", "strokeWidth": 1},
      "encoding": {"x2": {"field": "bar2"}, "y": {"field": "v", "type": "quantitative"}}
    },
    {
      "data": {"values": [{"bar": 104, "bar2": 110, "y1": 26481.2, "y2": 26458.4}]},
      "mark": {"type": "rect", "fill": "transparent", "stroke": "#ff3cff", "strokeWidth": 4},
      "encoding": {
        "x2": {"field": "bar2"},
        "y": {"field": "y1", "type": "quantitative"},
        "y2": {"field": "y2"}
      }
    },
    {
      "data": {"values": [{"bar": 143, "y1": 26588.0, "y2": 26121.8}]},
      "mark": {"type": "rule", "color": "#8a2be2", "strokeWidth": 5},
      "encoding": {"y": {"field": "y1", "type": "quantitative"}, "y2": {"field": "y2"}}
    },
    {
      "data": {"values": [{"bar": 140, "v": 26172.8}]},
      "mark": {
        "type": "point",
        "shape": "M0,-1L0.9,-0.05L0.45,-0.05L0.45,1L-0.45,1L-0.45,-0.05L-0.9,-0.05Z",
        "size": 361,
        "filled": true,
        "fill": "#ffffff",
        "fillOpacity": 1,
        "stroke": "#7fe87f",
        "strokeOpacity": 1,
        "strokeWidth": 1
      },
      "encoding": {"y": {"field": "v", "type": "quantitative"}}
    },
    {
      "data": {"values": [{"bar": 152.875, "bar2": 158.3, "y1": 26166.2, "y2": 26159.6}]},
      "mark": {"type": "rect", "fill": "#c80000", "clip": false},
      "encoding": {"x2": {"field": "bar2"}, "y": {"field": "y1", "type": "quantitative"}, "y2": {"field": "y2"}}
    },
    {
      "data": {"values": [{"bar": 153.1, "v": 26162.9, "label": "26162.64"}]},
      "mark": {"type": "text", "align": "left", "baseline": "middle", "color": "#ffffff"},
      "encoding": {"y": {"field": "v", "type": "quantitative"}, "text": {"field": "label"}}
    },
    {
      "data": {"values": [{"bar": 138.25, "bar2": 147.8, "y1": 26118.8, "y2": 26111.6}]},
      "mark": {"type": "rect", "fill": "#8a2be2", "clip": false},
      "encoding": {"x2": {"field": "bar2"}, "y": {"field": "y1", "type": "quantitative"}, "y2": {"field": "y2"}}
    },
    {
      "data": {"values": [{"bar": 138.6, "v": 26115.2, "label": "2026.08.19 03:00"}]},
      "mark": {"type": "text", "align": "left", "baseline": "middle", "color": "#ffffff"},
      "encoding": {"y": {"field": "v", "type": "quantitative"}, "text": {"field": "label"}}
    }
  ]
}
